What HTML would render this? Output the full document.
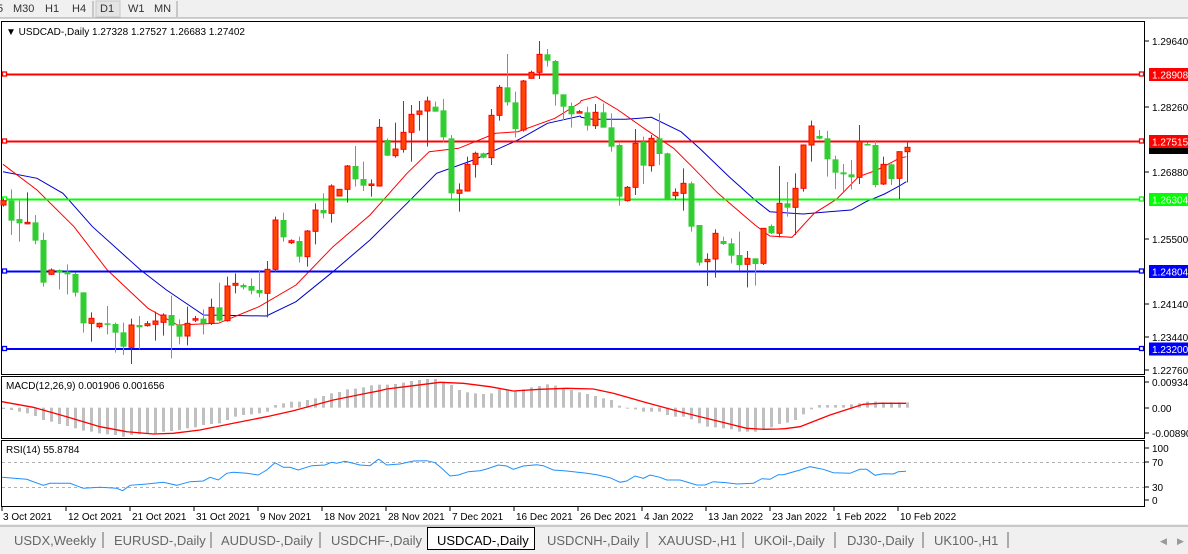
<!DOCTYPE html>
<html><head><meta charset="utf-8"><style>
html,body{margin:0;padding:0;width:1188px;height:554px;overflow:hidden;background:#fff;font-family:"Liberation Sans",sans-serif;}
svg text{font-family:"Liberation Sans",sans-serif;}
</style></head><body>
<svg id="s" width="1188" height="554" xmlns="http://www.w3.org/2000/svg" style="position:absolute;left:0;top:0">
<rect x="0" y="0" width="1188" height="18" fill="#f0f0f0"/>
<line x1="0" y1="18" x2="1188" y2="18" stroke="#a0a0a0"/>
<g font-size="11" fill="#333">
<text x="-3" y="12">5</text><text x="13" y="12">M30</text><text x="45" y="12">H1</text><text x="72" y="12">H4</text>
<line x1="93" y1="1" x2="93" y2="17" stroke="#a0a0a0"/>
<rect x="96" y="1" width="24" height="16" fill="#e4e4e4" stroke="#c8c8c8"/>
<text x="100" y="12">D1</text><text x="128" y="12">W1</text><text x="154" y="12">MN</text>
<line x1="177" y1="1" x2="177" y2="17" stroke="#a0a0a0"/>
</g>
<rect x="1.5" y="21.5" width="1143" height="353" fill="none" stroke="#000"/>
<rect x="1.5" y="376.5" width="1143" height="62" fill="none" stroke="#000"/>
<rect x="1.5" y="440.5" width="1143" height="66" fill="none" stroke="#000"/>
<g id="g"></g>
<g font-size="10" fill="#000">
<text x="6" y="35">▼ USDCAD-,Daily  1.27328 1.27527 1.26683 1.27402</text>
<text x="6" y="389">MACD(12,26,9) 0.001906 0.001656</text>
<text x="6" y="453">RSI(14) 55.8784</text>
</g>
<g font-size="10" fill="#000" id="ax"></g>
<rect x="0" y="524" width="1188" height="30" fill="#f0f0f0"/>
<line x1="0" y1="526" x2="1188" y2="526" stroke="#a0a0a0"/>
<g font-size="13" fill="#666" id="tabs"></g>
</svg>
<script>
var g=document.getElementById('g'),ax=document.getElementById('ax'),tb=document.getElementById('tabs');
var NS='http://www.w3.org/2000/svg';
function el(p,t,a,txt){var e=document.createElementNS(NS,t);for(var k in a)e.setAttribute(k,a[k]);if(txt!=null)e.textContent=txt;p.appendChild(e);return e;}
function pts(arr,sx,ox,oy,sy){return arr.map(function(p){return (ox+p[0]/sx).toFixed(1)+','+(oy+p[1]/sy).toFixed(1)}).join(' ');}
var redA=[[8,403],[100,480],[200,590],[290,720],[400,835],[480,885],[590,880],[700,830],[800,765],[900,650],[1000,555],[1100,430],[1160,365],[1240,355],[1340,310],[1400,305],[1500,265],[1568,218]];
var redB=[[30,212],[70,200],[130,240],[200,295],[280,355],[330,410],[400,490],[500,585],[540,618],[600,622],[660,550],[720,508],[780,440],[830,420],[890,385],[909,380]];
var bluA=[[8,425],[100,445],[170,490],[250,590],[380,720],[450,780],[550,855],[720,858],[800,815],[900,725],[1000,630],[1100,520],[1180,430],[1280,390],[1400,330],[1480,280],[1568,258]];
var bluB=[[30,262],[60,268],[150,268],[220,262],[300,305],[350,355],[430,440],[500,510],[540,545],[630,552],[700,545],[760,540],[800,515],[850,492],[890,468],[909,455]];
el(g,'polyline',{points:pts(bluA,2.703,0,30,3)+' '+pts(bluB,2.703,570,30,3),fill:'none',stroke:'#0000cc','stroke-width':1});
el(g,'polyline',{points:pts(redA,2.703,0,30,3)+' '+pts(redB,2.703,570,30,3),fill:'none',stroke:'#ff0000','stroke-width':1});
[[74.5,'#ff0000'],[141.5,'#ff0000'],[199.5,'#00ff00'],[271.5,'#0000ff'],[349,'#0000ff']].forEach(function(h){
el(g,'line',{x1:2,y1:h[0],x2:1144,y2:h[0],stroke:h[1],'stroke-width':2});
el(g,'rect',{x:2.5,y:h[0]-2.5,width:4,height:4,fill:'#fff',stroke:h[1],'stroke-width':1.3});
el(g,'rect',{x:1139.5,y:h[0]-2.5,width:4,height:4,fill:'#fff',stroke:h[1],'stroke-width':1.3});
});
var C=[[512,525,505,530,'r'],[512,572,478,615,'g'],[567,580,512,635,'g'],[577,581,487,583,'r'],[577,632,555,643,'g'],[630,758,608,770,'g'],[720,733,715,735,'r'],[720,728,718,778,'g'],[725,733,703,793,'g'],[732,788,728,800,'g'],
[787,880,787,908,'g'],[865,880,847,935,'r'],[880,890,878,895,'r'],[880,884,828,913,'g'],[882,908,878,968,'g'],[907,950,878,975,'g'],[885,952,866,1002,'r'],[885,892,858,958,'g'],[881,887,873,890,'r'],[873,883,845,932,'r'],
[855,877,850,917,'r'],[855,887,797,985,'g'],[884,920,868,943,'g'],[880,918,830,946,'r'],[866,868,858,876,'r'],[866,880,838,913,'g'],[832,880,806,885,'r'],[832,872,758,875,'g'],[768,872,740,875,'r'],[760,766,730,790,'r'],
[765,772,760,778,'g'],[768,782,745,793,'g'],[780,790,720,802,'g'],[718,790,693,862,'r'],[570,718,560,727,'r'],[570,622,548,635,'g'],[632,638,628,642,'r'],[633,680,620,697,'g'],[603,680,600,710,'r'],[540,604,520,643,'r'],
[540,550,490,565,'g'],[468,550,463,578,'r'],[478,498,478,498,'r'],[408,478,405,518,'r'],[408,448,348,470,'g'],[447,467,395,483,'g'],[462,466,448,500,'r'],[292,468,267,470,'r'],[330,377,325,378,'g'],[357,377,278,383,'r'],
[307,358,213,368,'r'],[253,307,225,395,'r'],[243,253,213,302,'r'],[213,243,200,350,'r'],[230,245,215,245,'g'],[241,322,207,338,'g'],[325,490,315,510,'g'],[480,490,460,545,'r'],[403,483,380,485,'r'],[370,403,365,443,'r'],
[370,383,368,385,'g'],[256,383,237,405,'r'],[172,256,165,272,'r'],[172,217,72,227,'g'],[217,297,185,322,'g'],[153,300,150,305,'r'],[127,145,122,145,'r'],[73,127,33,147,'r'],[73,92,57,110,'g'],[93,193,90,227,'g'],
[193,230,193,270,'g'],[228,253,218,293,'g'],
[245,247,240,250,'r'],[247,287,230,302,'g'],[247,287,222,297,'r'],[247,293,220,293,'g'],[292,350,250,365,'g'],[345,500,340,527,'g'],[472,512,468,515,'r'],[340,472,297,495,'r'],[335,407,320,462,'g'],[325,407,315,425,'r'],
[325,372,250,405,'g'],[370,508,368,510,'g'],[487,497,475,510,'r'],[460,490,415,542,'r'],[460,590,455,605,'g'],[585,698,585,707,'g'],[688,695,670,768,'r'],[610,687,598,743,'r'],[633,642,620,645,'g'],[640,677,625,700,'g'],
[675,705,605,722,'g'],[685,703,663,772,'r'],[685,702,685,767,'g'],[595,700,595,705,'r'],[588,610,583,612,'g'],[520,610,408,622,'r'],[520,533,456,560,'g'],[475,532,430,615,'r'],[345,475,343,485,'r'],[288,345,272,395,'r'],
[318,326,300,328,'g'],[325,388,303,440,'g'],[388,428,377,477,'g'],[427,433,402,485,'g'],[433,442,390,478,'g'],[335,442,285,462,'r'],[342,346,338,346,'g'],[345,465,330,472,'g'],[403,462,380,465,'r'],[403,447,400,465,'g'],
[365,445,365,507,'r'],[352,365,338,457,'r']];
C.forEach(function(c,i){var x=3+8*i;var Y=function(v){return 30+v/3};var col=c[4]=='r'?'#ff0000':'#32cd32';
el(g,'line',{x1:x+0.5,y1:Y(c[2]),x2:x+0.5,y2:Y(c[3]),stroke:col,'stroke-width':1});
var t=Y(c[0]),b=Y(c[1]);if(b-t<1.5){b=t+1.5;}
if(c[4]=='r')el(g,'rect',{x:x-2,y:t,width:5,height:b-t,fill:'#ff4500',stroke:'#ff0000','stroke-width':1});
else el(g,'rect',{x:x-2.5,y:t,width:6,height:b-t,fill:'#32cd32'});
});
var H=[117,120,125,130,138,150,155,162,168,175,182,185,190,193,195,200,195,193,190,190,185,183,180,175,172,165,162,160,150,140,135,133,130,125,105,100,95,95,90,85,78,70,66,58,56,52,46,44,44,
42,38,33,30,27,27,35,45,60,67,70,72,70,58,58,62,58,52,48,43,47,55,60,67,72,78,85,90,107,115,118,125,125,125,135,140,140,148,160,170,172,175,178,185,185,185,178,172,162,158,150,133,118,105,105,105,105,103,100,95,95,97,97,97,97];
H.forEach(function(v,i){var x=3+8*i;var z=370+113/3,y=370+v/3;el(g,'rect',{x:x-1,y:Math.min(z,y),width:3,height:Math.max(1,Math.abs(y-z)),fill:'#c0c0c0'});});
var mA=[[6,95],[100,112],[200,140],[300,170],[380,185],[460,192],[520,190],[600,180],[700,160],[800,140],[880,122],[1000,90],[1100,70],[1140,62]];
var mB=[[20,57],[100,47],[180,37],[250,40],[330,50],[400,63],[480,58],[560,55],[640,57],[700,70],[800,98],[900,125],[1000,150],[1100,175],[1150,178],[1195,177]];
var mC=[[15,176],[60,170],[150,135],[250,103],[300,100],[378,100]];
el(g,'polyline',{points:pts(mA,3,0,370,3)+' '+pts(mB,3,380,370,3)+' '+pts(mC,3,780,370,3),fill:'none',stroke:'#ff0000','stroke-width':1.3});
el(g,'line',{x1:2,y1:462.5,x2:1144,y2:462.5,stroke:'#b0b0b0','stroke-dasharray':'3,3'});
el(g,'line',{x1:2,y1:487.5,x2:1144,y2:487.5,stroke:'#b0b0b0','stroke-dasharray':'3,3'});
var rA=[[6,322],[80,328],[130,346],[150,340],[210,340],[250,355],[300,352],[350,355],[368,362],[390,346],[440,342],[490,337],[530,346],[570,335],[610,333],[630,322],[655,330],[680,310],[700,307],[740,310],[775,315],[800,300],[825,278],[850,292],[870,292],[895,300],[935,287],[975,285],[995,277],[1010,280],[1035,274],[1080,285],[1110,287],[1135,268],[1140,270]];
var rB=[[20,285],[60,282],[100,273],[140,272],[165,278],[185,295],[210,318],[235,315],[265,305],[300,302],[320,297],[355,285],[380,288],[400,298],[430,288],[470,284],[490,287],[520,300],[560,303],[620,310],[650,314],[690,323],[720,337],[740,333],[765,318],[790,325],[810,315],[840,322],[860,330],[900,330],[950,345],[975,345],[1000,335],[1040,338],[1070,342],[1120,340],[1145,326],[1170,328],[1195,314]];
var rC=[[10,314],[60,300],[90,290],[130,298],[160,308],[210,310],[240,298],[260,298],[285,316],[310,311],[340,312],[355,305],[378,304]];
el(g,'polyline',{points:pts(rA,3,0,370,3)+' '+pts(rB,3,380,370,3)+' '+pts(rC,3,780,370,3),fill:'none',stroke:'#1e90ff','stroke-width':1});
[[41,'1.29640'],[107,'1.28260'],[172,'1.26880'],[239,'1.25500'],[304,'1.24140'],[337,'1.23440'],[370,'1.22760'],[382,'0.009345'],[408,'0.00'],[433,'-0.00890'],[448,'100'],[462,'70'],[487,'30'],[500,'0']].forEach(function(p){
el(ax,'line',{x1:1145,y1:p[0],x2:1149,y2:p[0],stroke:'#000'});el(ax,'text',{x:1152,y:p[0]+4},p[1]);});
[[74.5,'#ff0000','1.28908'],[141.5,'#ff0000','1.27515'],[199.5,'#00ff00','1.26304'],[271.5,'#0000ff','1.24804'],[349,'#0000ff','1.23200']].forEach(function(p,i){
if(i==1){el(ax,'rect',{x:1149,y:146,width:39,height:8,fill:'#000'});}
el(ax,'rect',{x:1149,y:p[0]-6.5,width:39,height:13,fill:p[1]});
el(ax,'text',{x:1152,y:p[0]+4,fill:'#fff'},p[2]);});
[[2,'3 Oct 2021'],[66,'12 Oct 2021'],[130,'21 Oct 2021'],[194,'31 Oct 2021'],[258,'9 Nov 2021'],[322,'18 Nov 2021'],[386,'28 Nov 2021'],[450,'7 Dec 2021'],[514,'16 Dec 2021'],[578,'26 Dec 2021'],[642,'4 Jan 2022'],[706,'13 Jan 2022'],[770,'23 Jan 2022'],[834,'1 Feb 2022'],[898,'10 Feb 2022']].forEach(function(p){
el(ax,'line',{x1:p[0],y1:507,x2:p[0],y2:511,stroke:'#000'});el(ax,'text',{x:p[0]+(p[0]==2?1:2),y:520},p[1]);});
el(tb,'rect',{x:427.5,y:527.5,width:107,height:22,fill:'#fff',stroke:'#000'});
[[14,'USDX,Weekly',103],[114,'EURUSD-,Daily',211],[221,'AUDUSD-,Daily',320],[331,'USDCHF-,Daily',0],[437,'USDCAD-,Daily',0],[547,'USDCNH-,Daily',647],[658,'XAUUSD-,H1',743],[754,'UKOil-,Daily',835],[847,'DJ30-,Daily',923],[934,'UK100-,H1',1008]].forEach(function(p,i){
el(tb,'text',{x:p[0],y:545,fill:i==4?'#000':'#666'},p[1]);if(p[2])el(tb,'line',{x1:p[2],y1:532,x2:p[2],y2:548,stroke:'#666'});});
el(tb,'text',{x:1160,y:544,'font-size':'9',fill:'#999'},'◀');el(tb,'text',{x:1177,y:544,'font-size':'9',fill:'#999'},'▶');
</script>
</body></html>
